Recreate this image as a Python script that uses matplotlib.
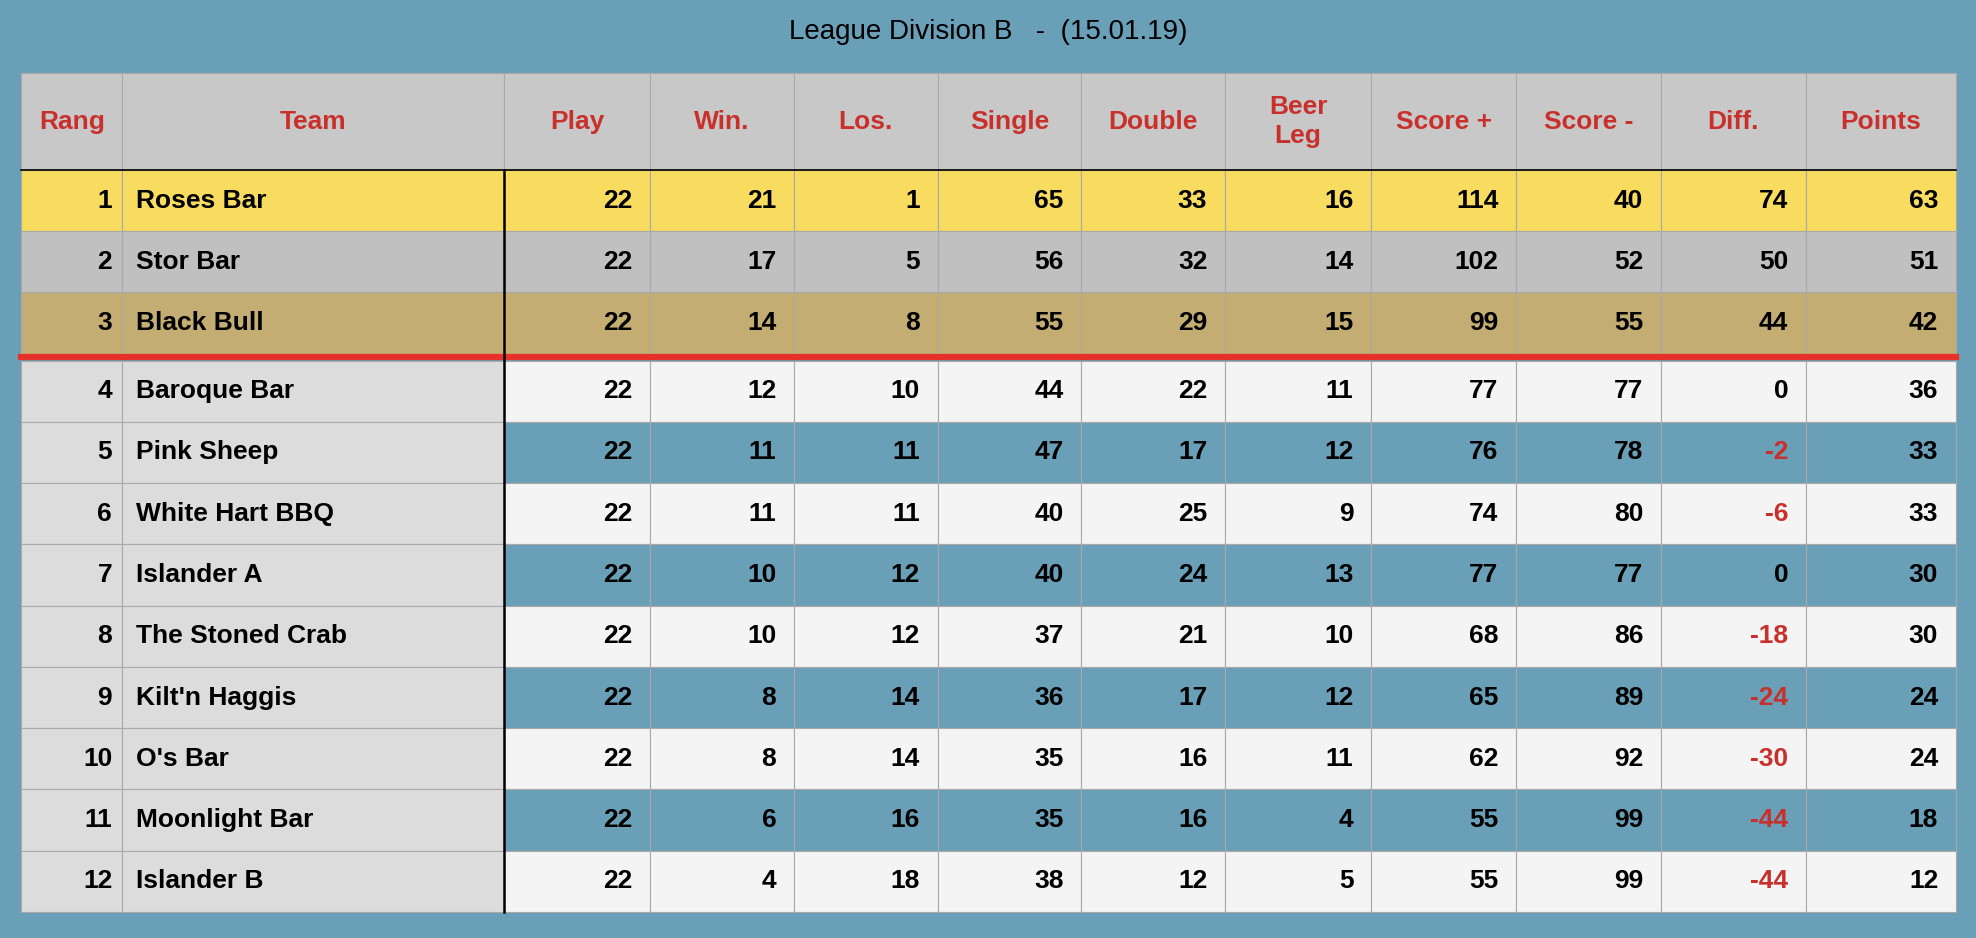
import matplotlib
matplotlib.use("Agg")
import matplotlib.pyplot as plt
from matplotlib.patches import Rectangle

title = "League Division B   -  (15.01.19)"
headers = ["Rang", "Team", "Play", "Win.", "Los.", "Single", "Double", "Beer\nLeg",
           "Score +", "Score -", "Diff.", "Points"]
teams = ["Roses Bar", "Stor Bar", "Black Bull", "Baroque Bar", "Pink Sheep", "White Hart BBQ",
         "Islander A", "The Stoned Crab", "Kilt'n Haggis", "O's Bar", "Moonlight Bar", "Islander B"]
play = [22] * 12
win = [21, 17, 14, 12, 11, 11, 10, 10, 8, 8, 6, 4]
los = [1, 5, 8, 10, 11, 11, 12, 12, 14, 14, 16, 18]
single = [65, 56, 55, 44, 47, 40, 40, 37, 36, 35, 35, 38]
double = [33, 32, 29, 22, 17, 25, 24, 21, 17, 16, 16, 12]
beer_leg = [16, 14, 15, 11, 12, 9, 13, 10, 12, 11, 4, 5]
score_plus = [114, 102, 99, 77, 76, 74, 77, 68, 65, 62, 55, 55]
score_minus = [40, 52, 55, 77, 78, 80, 77, 86, 89, 92, 99, 99]
diff = [74, 50, 44, 0, -2, -6, 0, -18, -24, -30, -44, -44]
points = [63, 51, 42, 36, 33, 33, 30, 30, 24, 24, 18, 12]

BG = "#6a9fb8"
RED = "#c8302c"
W, H = 1568, 744
col_x = [17, 97, 400, 516, 630, 744, 858, 972, 1088, 1203, 1318, 1433, 1552]
head_top, head_bot = 58, 135
top_rows = [135, 183.5, 232, 281]
low_top, row_h = 286, 48.6

fig = plt.figure(figsize=(19.76, 9.38), dpi=100)
fig.patch.set_facecolor(BG)
ax = fig.add_axes([0, 0, 1, 1])
ax.set_xlim(0, W)
ax.set_ylim(H, 0)
ax.axis("off")

font = "Liberation Sans"
fs = 19

ax.text(W / 2, 25, title, ha="center", va="center", fontsize=20, family=font, color="black")

def cell(x0, x1, y0, y1, color):
    ax.add_patch(Rectangle((x0, y0), x1 - x0, y1 - y0, facecolor=color,
                           edgecolor="#a9a9a9", linewidth=0.8))

# header
for i, h in enumerate(headers):
    cell(col_x[i], col_x[i + 1], head_top, head_bot, "#c8c8c8")
    ax.text((col_x[i] + col_x[i + 1]) / 2, (head_top + head_bot) / 2, h, ha="center",
            va="center", fontsize=fs, family=font, weight="bold", color=RED, linespacing=1.25)

row_bounds = []
for r in range(3):
    row_bounds.append((top_rows[r], top_rows[r + 1]))
for r in range(9):
    row_bounds.append((low_top + r * row_h, low_top + (r + 1) * row_h))

top_colors = ["#f7dc60", "#c0c0c0", "#c4ad72"]
stats = [play, win, los, single, double, beer_leg, score_plus, score_minus, diff, points]

for r, (y0, y1) in enumerate(row_bounds):
    if r < 3:
        left_c = right_c = top_colors[r]
    else:
        left_c = "#dcdcdc"
        right_c = BG if r % 2 == 0 else "#f4f4f4"
    ym = (y0 + y1) / 2
    cell(col_x[0], col_x[1], y0, y1, left_c)
    cell(col_x[1], col_x[2], y0, y1, left_c)
    ax.text(col_x[1] - 8, ym, str(r + 1), ha="right", va="center", fontsize=fs,
            family=font, weight="bold")
    ax.text(col_x[1] + 11, ym, teams[r], ha="left", va="center", fontsize=fs,
            family=font, weight="bold")
    for c, vals in enumerate(stats):
        x0, x1 = col_x[c + 2], col_x[c + 3]
        cell(x0, x1, y0, y1, right_c)
        v = vals[r]
        color = RED if (vals is diff and v < 0) else "black"
        ax.text(x1 - 14, ym, str(v), ha="right", va="center", fontsize=fs,
                family=font, weight="bold", color=color)

# separators
ax.plot([col_x[0], col_x[-1]], [283.5, 283.5], color="#e8302a", linewidth=4.5)
ax.plot([col_x[2], col_x[2]], [head_bot, row_bounds[-1][1]], color="black", linewidth=1.8)
ax.plot([col_x[0], col_x[-1]], [head_bot, head_bot], color="black", linewidth=1.2)

fig.savefig("out.png", dpi=100, facecolor=BG)
